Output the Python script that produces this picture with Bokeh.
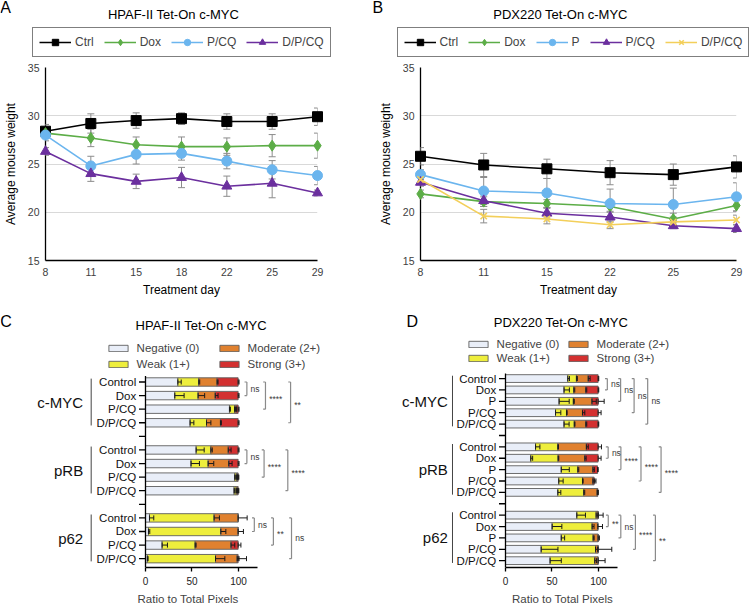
import numpy as np
from bokeh.plotting import figure
from bokeh.models import (Range1d, FixedTicker, Legend, LegendItem, Label,
                          Whisker, TeeHead, ColumnDataSource)
from bokeh.layouts import column, row
from bokeh.core.properties import value
from bokeh.embed import file_html
from bokeh.resources import INLINE

FONT = "Liberation Sans"

# ---------------- Panel A data (HPAF-II Tet-On c-MYC) ----------------
a_days = ["8", "11", "15", "18", "22", "25", "29"]
a_names = ["Ctrl", "Dox", "P/CQ", "D/P/CQ"]
a_ctrl = [28.4, 29.2, 29.5, 29.7, 29.4, 29.4, 29.9]
a_ctrl_err = [0.7, 1.0, 0.8, 0.6, 0.8, 0.8, 0.9]
a_dox = [28.2, 27.7, 27.0, 26.8, 26.8, 26.9, 26.9]
a_dox_err = [0.5, 0.9, 0.8, 1.0, 0.9, 1.15, 1.3]
a_pcq = [28.0, 24.8, 26.0, 26.1, 25.3, 24.4, 23.8]
a_pcq_err = [0.6, 1.0, 1.0, 0.7, 0.8, 0.95, 0.95]
a_dpcq = [26.3, 24.0, 23.2, 23.6, 22.7, 23.0, 22.0]
a_dpcq_err = [0.4, 0.8, 0.75, 1.05, 1.05, 1.5, 0.3]

# ---------------- Panel B data (PDX220 Tet-On c-MYC) ----------------
b_days = ["8", "11", "15", "22", "25", "29"]
b_names = ["Ctrl", "Dox", "P", "P/CQ", "D/P/CQ"]
b_ctrl = [25.8, 24.9, 24.5, 24.1, 23.9, 24.7]
b_ctrl_err = [0.9, 1.2, 1.0, 1.25, 1.1, 1.15]
b_dox = [21.9, 21.1, 20.9, 20.6, 19.3, 20.7]
b_dox_err = [0.4, 0.5, 0.4, 0.5, 0.6, 0.6]
b_p = [23.9, 22.2, 22.0, 20.9, 20.8, 21.6]
b_p_err = [0.5, 1.4, 1.5, 1.5, 1.7, 1.45]
b_pcq = [23.1, 21.2, 19.9, 19.5, 18.6, 18.3]
b_pcq_err = [0.4, 0.6, 0.5, 0.5, 0.3, 0.4]
b_dpcq = [23.4, 19.6, 19.3, 18.7, 19.0, 19.2]
b_dpcq_err = [0.4, 0.7, 0.5, 0.4, 0.5, 0.5]

# ---------------- Panel C data (HPAF-II IHC scoring) ----------------
levels = ["Negative (0)", "Weak (1+)", "Moderate (2+)", "Strong (3+)"]
c_groups = ["c-MYC", "pRB", "p62"]
c_conds = ["Control", "Dox", "P/CQ", "D/P/CQ"]
c_neg = [34.8, 31.5, 90.3, 48.0, 54.5, 49.0, 96.0, 95.3, 4.3, 3.2, 17.9, 2.0]
c_weak = [22.5, 25.1, 5.4, 17.6, 15.8, 18.4, 2.0, 2.2, 69.5, 77.8, 35.5, 73.3]
c_mod = [19.7, 18.4, 1.8, 15.0, 18.7, 22.2, 1.0, 1.5, 25.8, 18.6, 38.6, 23.3]
c_strong = [22.6, 24.6, 2.1, 19.0, 10.6, 10.0, 0.6, 0.6, 0.0, 0.0, 7.6, 1.0]
c_neg_err = [3.6, 10.0, 1.0, 4.0, 8.6, 9.0, 0.5, 0.8, 4.6, 1.4, 5.7, 0.8]
c_weak_err = [1.0, 7.0, 1.0, 4.7, 1.5, 6.0, 0.5, 0.5, 5.7, 5.4, 1.0, 10.0]
c_mod_err = [1.0, 3.0, 0.5, 1.0, 3.0, 3.5, 0.5, 0.5, 9.7, 5.7, 4.0, 2.0]
c_strong_err = [1.0, 1.0, 1.0, 1.0, 1.0, 1.0, 0.8, 0.8, 0.0, 0.0, 3.0, 9.0]
# significance: (group, from condition, to condition, label)
c_stats = [(0, 0, 1, "ns"), (0, 0, 2, "****"), (0, 0, 3, "**"),
           (1, 0, 1, "ns"), (1, 0, 2, "****"), (1, 0, 3, "****"),
           (2, 0, 1, "ns"), (2, 0, 2, "**"), (2, 0, 3, "ns")]

# ---------------- Panel D data (PDX220 IHC scoring) ----------------
d_groups = ["c-MYC", "pRB", "p62"]
d_conds = ["Control", "Dox", "P", "P/CQ", "D/P/CQ"]
d_neg = [67.0, 63.0, 57.7, 53.8, 63.0, 32.3, 27.2, 60.0, 57.3, 56.3, 76.7, 50.2, 60.0, 38.4, 48.0]
d_weak = [9.3, 10.5, 15.3, 11.8, 11.0, 24.0, 29.4, 17.8, 25.5, 27.9, 20.8, 43.0, 34.3, 58.4, 48.0]
d_mod = [12.7, 12.9, 20.0, 17.2, 12.4, 30.7, 28.7, 16.2, 11.2, 14.4, 2.1, 6.1, 5.3, 2.8, 3.6]
d_strong = [10.6, 13.2, 6.6, 16.8, 13.2, 12.6, 14.3, 5.0, 1.3, 0.7, 0.0, 0.0, 0.0, 0.0, 0.0]
d_neg_err = [1.8, 5.7, 10.8, 5.7, 5.4, 4.7, 2.0, 8.6, 4.7, 3.2, 9.3, 10.4, 3.6, 18.0, 12.0]
d_weak_err = [1.0, 1.0, 1.0, 0.7, 0.7, 0.7, 0.7, 1.0, 0.7, 1.0, 2.0, 2.0, 1.0, 2.0, 1.8]
d_mod_err = [2.0, 1.0, 4.6, 2.5, 1.0, 2.0, 1.4, 1.5, 2.0, 0.5, 5.4, 5.0, 1.4, 14.7, 7.5]
d_strong_err = [0.7, 0.7, 6.5, 3.2, 0.7, 3.6, 3.2, 0.7, 2.0, 0.5, 0.0, 0.0, 0.0, 0.0, 0.0]
d_stats = [(0, 0, 1, "ns"), (0, 0, 2, "ns"), (0, 0, 3, "ns"), (0, 0, 4, "ns"),
           (1, 0, 1, "ns"), (1, 0, 2, "****"), (1, 0, 3, "****"), (1, 0, 4, "****"),
           (2, 0, 1, "**"), (2, 0, 2, "ns"), (2, 0, 3, "****"), (2, 0, 4, "**")]

# ---------------- styles / layout constants ----------------
LINE_COLORS_A = ["#000000", "#5cad47", "#6bb5ee", "#6b2f9e"]
MARKERS_A = ["square", "diamond", "circle", "triangle"]
SIZES_A = [10, 11, 10, 10]
LINE_COLORS_B = ["#000000", "#5cad47", "#6bb5ee", "#6b2f9e", "#f3cf5a"]
MARKERS_B = ["square", "diamond", "circle", "triangle", "x"]
SIZES_B = [10, 11, 10, 10, 9]
BAR_COLORS = ["#e9eef8", "#eeee3c", "#e0812f", "#d33030"]
HEAD_H = 60      # header strip with panel letters, titles and legends of A and B
PLOT_H = 245     # line charts
BOT_H = 302      # bar charts
W_LEFT, W_RIGHT = 375, 374


def add_label(p, x, y, text, size, align="center"):
    p.add_layout(Label(x=x, y=y, x_units="screen", y_units="screen", text=text,
                       text_align=align, text_baseline="middle", text_font=FONT,
                       text_font_size=size, text_color="black"))


def add_series(p, xs, m, e, c, mk, sz, with_err=True):
    src = ColumnDataSource(dict(x=xs, y=m,
                                lo=[a - b for a, b in zip(m, e)],
                                hi=[a + b for a, b in zip(m, e)]))
    if with_err:
        p.add_layout(Whisker(source=src, base="x", lower="lo", upper="hi",
                             dimension="height", line_color="#8c8c8c", line_width=1,
                             level="annotation",
                             upper_head=TeeHead(size=7, line_color="#8c8c8c", line_width=1),
                             lower_head=TeeHead(size=7, line_color="#8c8c8c", line_width=1)))
    ln = p.line("x", "y", source=src, line_color=c, line_width=1.6, level="overlay")
    if mk == "x":
        sc = p.scatter("x", "y", source=src, marker=mk, size=sz, line_color=c,
                       line_width=1.6, level="overlay")
    else:
        sc = p.scatter("x", "y", source=src, marker=mk, size=sz, fill_color=c,
                       line_color=c, level="overlay")
    return ln, sc


# ---------- header: letters, titles and framed legends of A and B ----------
head = figure(width=W_LEFT + W_RIGHT, height=HEAD_H, output_backend="svg",
              toolbar_location=None, x_range=Range1d(1000, 1001),
              y_range=Range1d(1000, 1001), x_axis_location=None, y_axis_location=None,
              min_border=0)
head.outline_line_color = None
head.grid.visible = False


def header_legend(days, names, means, errs, colors, markers, sizes, leg_x):
    xs = list(range(len(days)))
    items = []
    for name, m, e, c, mk, sz in zip(names, means, errs, colors, markers, sizes):
        ln, sc = add_series(head, xs, m, e, c, mk, sz, with_err=False)
        items.append(LegendItem(label=name, renderers=[ln, sc]))
    head.add_layout(Legend(items=items, orientation="horizontal", location=(leg_x, 3.3),
                           border_line_color="black", border_line_width=1.3, padding=6,
                           spacing=10, glyph_width=32, glyph_height=16, label_height=16,
                           label_width=4, label_standoff=4, label_text_font=FONT,
                           label_text_font_size="12px", margin=0,
                           background_fill_alpha=0))


header_legend(a_days, a_names, [a_ctrl, a_dox, a_pcq, a_dpcq],
              [a_ctrl_err, a_dox_err, a_pcq_err, a_dpcq_err],
              LINE_COLORS_A, MARKERS_A, SIZES_A, 32)
header_legend(b_days, b_names, [b_ctrl, b_dox, b_p, b_pcq, b_dpcq],
              [b_ctrl_err, b_dox_err, b_p_err, b_pcq_err, b_dpcq_err],
              LINE_COLORS_B, MARKERS_B, SIZES_B, 396.5)
add_label(head, 5, HEAD_H - 6.5, "A", "16px")
add_label(head, 173, HEAD_H - 14, "HPAF-II Tet-On c-MYC", "13px")
add_label(head, 372, HEAD_H - 6.5, "B", "16px", align="left")
add_label(head, 560, HEAD_H - 14, "PDX220 Tet-On c-MYC", "13px")


def line_panel(days, means, errs, colors, markers, sizes, width, fl, fr):
    xs = list(range(len(days)))
    p = figure(width=width, height=PLOT_H, output_backend="svg", toolbar_location=None,
               x_range=Range1d(0, len(days) - 1), y_range=Range1d(15, 35),
               min_border_left=fl, min_border_right=fr, min_border_top=7,
               min_border_bottom=45)
    p.outline_line_color = None
    for m, e, c, mk, sz in zip(means, errs, colors, markers, sizes):
        add_series(p, xs, m, e, c, mk, sz)

    p.xaxis.ticker = FixedTicker(ticks=xs)
    p.xaxis.major_label_overrides = {i: d for i, d in enumerate(days)}
    p.yaxis.ticker = FixedTicker(ticks=[15, 20, 25, 30, 35])
    p.ygrid.ticker = FixedTicker(ticks=[20, 25, 30, 35])
    p.ygrid.grid_line_color = "#d9d9d9"
    p.ygrid.grid_line_width = 1
    p.xgrid.visible = False
    for ax in (p.xaxis[0], p.yaxis[0]):
        ax.axis_line_color = "black"
        ax.axis_line_width = 1.3
        ax.major_tick_out = 0
        ax.major_tick_in = 0
        ax.minor_tick_line_color = None
        ax.major_label_text_font = FONT
        ax.major_label_text_font_size = "10.5px"
        ax.major_label_text_color = "#404040"
        ax.axis_label_text_font = FONT
        ax.axis_label_text_font_size = "12px"
        ax.axis_label_text_font_style = "normal"
        ax.axis_label_text_color = "black"
    p.xaxis.axis_label = "Treatment day"
    p.yaxis.axis_label = "Average mouse weight"
    p.xaxis.major_label_standoff = 7
    p.xaxis.axis_label_standoff = 4
    p.yaxis.major_label_standoff = 6
    p.yaxis.axis_label_standoff = 7
    return p


def bar_panel(groups, conds, neg, weak, mod, strong, errs, stats, width, x_start,
              x_end, y_top, y_bottom, fb, bar_h, group_line_x, group_label_x,
              stat_x, leg_loc, label_w, leg_spacing, title, title_xy, letter, letter_xy):
    n = len(conds)
    pos = [g * (n + 1) + i for g in range(len(groups)) for i in range(n)]
    all_ticks = list(range(len(groups) * (n + 1) - 1))
    labels = conds * len(groups)

    p = figure(width=width, height=BOT_H, output_backend="svg", toolbar_location=None,
               x_range=Range1d(x_start, x_end), y_range=Range1d(y_bottom, y_top),
               y_axis_location=None, min_border=0, min_border_bottom=fb)
    p.outline_line_color = None
    p.grid.visible = False

    src = ColumnDataSource(dict(y=pos, neg=neg, weak=weak, mod=mod, strong=strong))
    rs = p.hbar_stack(["neg", "weak", "mod", "strong"], y="y", height=bar_h, source=src,
                      fill_color=BAR_COLORS, line_color="#5e5e5e", line_width=0.9)

    layers = np.array([neg, weak, mod, strong])
    err = np.array(errs)
    ends = np.cumsum(layers, axis=0)
    wy, wlo, whi = [], [], []
    for k in range(4):
        for j in range(len(pos)):
            if layers[k][j] > 0 and err[k][j] > 0:
                wy.append(pos[j])
                wlo.append(float(ends[k][j]))
                whi.append(float(ends[k][j] + err[k][j]))
    wsrc = ColumnDataSource(dict(y=wy, lo=wlo, hi=whi))
    p.add_layout(Whisker(source=wsrc, base="y", lower="lo", upper="hi", dimension="width",
                         line_color="#1a1a1a", line_width=1, level="annotation",
                         upper_head=TeeHead(size=5, line_color="#1a1a1a", line_width=1),
                         lower_head=TeeHead(size=5, line_color="#1a1a1a", line_width=1)))

    # category axis drawn in data space
    p.segment(x0=[0], y0=[-0.45], x1=[0], y1=[y_bottom], line_color="black", line_width=1.3)
    p.segment(x0=[-7] * len(all_ticks), y0=all_ticks, x1=[0] * len(all_ticks),
              y1=all_ticks, line_color="black", line_width=1.3)
    p.text(x=[-10] * len(pos), y=pos, text=labels, text_align="right",
           text_baseline="middle", text_font=value(FONT), text_font_size="11.5px",
           text_color="#111111")
    gfirst = [g * (n + 1) for g in range(len(groups))]
    glast = [g * (n + 1) + n - 1 for g in range(len(groups))]
    p.segment(x0=[group_line_x] * len(groups), y0=[f - 0.25 for f in gfirst],
              x1=[group_line_x] * len(groups), y1=[l + 0.2 for l in glast],
              line_color="#444444", line_width=1)
    p.text(x=[group_label_x] * len(groups), y=[(f + l) / 2 for f, l in zip(gfirst, glast)],
           text=groups, text_align="right", text_baseline="middle",
           text_font=value(FONT), text_font_size="15px", text_color="#111111")

    # significance brackets
    bx, by0, by1, tx, ty, tt, toff = [], [], [], [], [], [], []
    for (g, a, b, lab), x in zip(stats, stat_x):
        y0 = g * (n + 1) + a
        y1 = g * (n + 1) + b
        bx.append(x)
        by0.append(y0)
        by1.append(y1)
        tx.append(x + 4)
        ty.append((y0 + y1) / 2)
        tt.append(lab)
        toff.append(3 if "*" in lab else 0)
    p.segment(x0=bx, y0=by0, x1=bx, y1=by1, line_color="#8a8a8a", line_width=1.2)
    p.segment(x0=[x - 2.5 for x in bx], y0=by0, x1=bx, y1=by0, line_color="#8a8a8a",
              line_width=1.2)
    p.segment(x0=[x - 2.5 for x in bx], y0=by1, x1=bx, y1=by1, line_color="#8a8a8a",
              line_width=1.2)
    tsrc = ColumnDataSource(dict(x=tx, y=ty, t=tt, off=toff))
    p.text(x="x", y="y", text="t", y_offset="off", source=tsrc, text_align="left",
           text_baseline="middle", text_font=value(FONT), text_font_size="8.5px",
           text_color="#3a3a3a")

    p.xaxis.bounds = (0, 120)
    p.xaxis.ticker = FixedTicker(ticks=[0, 50, 100])
    ax = p.xaxis[0]
    ax.axis_line_color = "black"
    ax.axis_line_width = 1.5
    ax.major_tick_out = 4
    ax.major_tick_in = 0
    ax.major_tick_line_color = "black"
    ax.major_tick_line_width = 1.3
    ax.minor_tick_line_color = None
    ax.major_label_text_font = FONT
    ax.major_label_text_font_size = "10px"
    ax.major_label_text_color = "#222222"
    ax.major_label_standoff = 5
    ax.axis_label = "Ratio to Total Pixels"
    ax.axis_label_text_font = FONT
    ax.axis_label_text_font_size = "11.5px"
    ax.axis_label_text_font_style = "normal"
    ax.axis_label_standoff = 5

    leg = Legend(items=[LegendItem(label=l, renderers=[r]) for l, r in zip(levels, rs)],
                 location=leg_loc, orientation="vertical", ncols=2, glyph_width=24,
                 glyph_height=8, label_height=12, label_width=label_w, label_standoff=7,
                 spacing=leg_spacing, padding=0, margin=0, border_line_color=None,
                 background_fill_alpha=0, label_text_font=FONT,
                 label_text_font_size="11.5px")
    p.add_layout(leg)

    add_label(p, title_xy[0], title_xy[1], title, "13px")
    add_label(p, letter_xy[0], letter_xy[1], letter, "16px")
    return p


pa = line_panel(a_days, [a_ctrl, a_dox, a_pcq, a_dpcq],
                [a_ctrl_err, a_dox_err, a_pcq_err, a_dpcq_err],
                LINE_COLORS_A, MARKERS_A, SIZES_A, W_LEFT, 41, 58)
pb = line_panel(b_days, [b_ctrl, b_dox, b_p, b_pcq, b_dpcq],
                [b_ctrl_err, b_dox_err, b_p_err, b_pcq_err, b_dpcq_err],
                LINE_COLORS_B, MARKERS_B, SIZES_B, W_RIGHT, 37, 13)

pc = bar_panel(c_groups, c_conds, c_neg, c_weak, c_mod, c_strong,
               [c_neg_err, c_weak_err, c_mod_err, c_strong_err], c_stats,
               W_LEFT, -155.9, 247.3, -5.63, 13.65, 35, 0.62, -58.4, -67,
               [109, 129, 156, 109, 127.5, 153, 117, 137.5, 157],
               (105.6, 197), 76, 4, "HPAF-II Tet-On c-MYC", (200.7, 242),
               "C", (5.5, 246))
pd = bar_panel(d_groups, d_conds, d_neg, d_weak, d_mod, d_strong,
               [d_neg_err, d_weak_err, d_mod_err, d_strong_err], d_stats,
               W_RIGHT, -139.8, 262.4, -6.42, 16.6, 33, 0.68, -57, -62,
               [109.5, 123.8, 138.3, 152.9, 110.4, 124.1, 145.7, 167.3,
                110.5, 124, 139.7, 161.2],
               (90.6, 203), 67, 2, "PDX220 Tet-On c-MYC", (185.4, 244.7),
               "D", (36.7, 245.7))

layout = column(head, row(pa, pb), row(pc, pd))
open("out.html", "w").write(file_html(layout, INLINE))
